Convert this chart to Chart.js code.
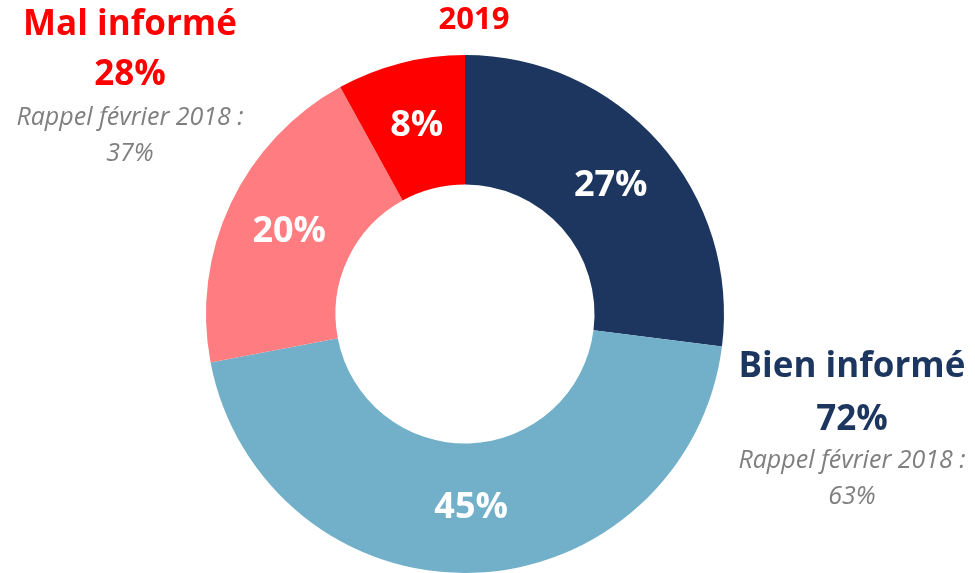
<!DOCTYPE html>
<html>
<head>
<meta charset="utf-8">
<script src="https://cdn.jsdelivr.net/npm/chart.js@4"></script>
<style>
  html, body { margin: 0; padding: 0; background: #fff; }
  #wrap { position: relative; width: 975px; height: 573px; }
</style>
</head>
<body>
<div id="wrap"><canvas id="donut"></canvas></div>
<script>
// data, clockwise from 12 o'clock
const categories = ["Très bien informé", "Plutôt bien informé", "Plutôt mal informé", "Très mal informé"];
const values = [27, 45, 20, 8];
const colors = ["#1D365F", "#71B0C8", "#FF7C80", "#FF0000"];

const year = "2019";
const groups = [
  { title: "Mal informé", total: "28%", recall: "Rappel février 2018 :", recallValue: "37%", color: "#FF0000" },
  { title: "Bien informé", total: "72%", recall: "Rappel février 2018 :", recallValue: "63%", color: "#1D365F" }
];

const FONT = "'Open Sans', Lato, sans-serif";

// white % labels inside each slice
const sliceLabels = {
  id: "sliceLabels",
  afterDatasetsDraw(chart) {
    const ctx = chart.ctx;
    const meta = chart.getDatasetMeta(0);
    ctx.save();
    ctx.font = "bold 36px " + FONT;
    ctx.fillStyle = "#fff";
    ctx.textAlign = "center";
    ctx.textBaseline = "middle";
    meta.data.forEach((arc, i) => {
      const p = arc.getCenterPoint();
      ctx.fillText(values[i] + "%", p.x, p.y);
    });
    ctx.restore();
  }
};

// side annotations + year
const annotations = {
  id: "annotations",
  afterDraw(chart) {
    const ctx = chart.ctx;
    ctx.save();
    ctx.textAlign = "center";
    ctx.textBaseline = "alphabetic";

    ctx.fillStyle = "#FF0000";
    ctx.font = "bold 31px " + FONT;
    ctx.fillText(year, 474, 29);

    const blocks = [
      { x: 130, lines: [35, 85, 125, 161] },
      { x: 852, lines: [377, 430, 468, 504] }
    ];
    groups.forEach((g, i) => {
      const b = blocks[i];
      ctx.fillStyle = g.color;
      ctx.font = "bold 35px " + FONT;
      ctx.fillText(g.title, b.x, b.lines[0]);
      ctx.fillText(g.total, b.x, b.lines[1]);
      ctx.fillStyle = "#7F7F7F";
      ctx.font = "italic 25px " + FONT;
      ctx.fillText(g.recall, b.x, b.lines[2]);
      ctx.fillText(g.recallValue, b.x, b.lines[3]);
    });
    ctx.restore();
  }
};

new Chart(document.getElementById("donut"), {
  type: "doughnut",
  data: {
    labels: categories,
    datasets: [{
      data: values,
      backgroundColor: colors,
      borderWidth: 0
    }]
  },
  options: {
    responsive: true,
    maintainAspectRatio: false,
    animation: false,
    cutout: "50%",
    layout: { padding: { top: 55, bottom: 0, left: 206, right: 251 } },
    plugins: {
      legend: { display: false },
      tooltip: { enabled: false }
    }
  },
  plugins: [sliceLabels, annotations]
});
</script>
</body>
</html>
